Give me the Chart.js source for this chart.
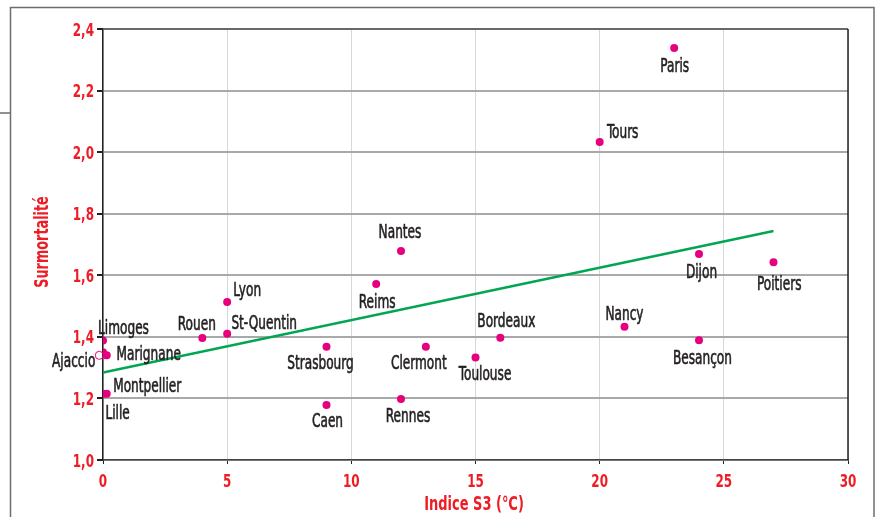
<!DOCTYPE html>
<html>
<head>
<meta charset="utf-8">
<script src="https://cdn.jsdelivr.net/npm/chart.js@4"></script>
<style>
html,body{margin:0;padding:0;background:#fff;}
#wrap{width:876px;height:517px;position:relative;}
</style>
</head>
<body>
<div id="wrap"><canvas id="c" width="876" height="517"></canvas></div>
<script>
// ---- data ----
const cities = ['Paris','Tours','Nantes','Reims','Lyon','St-Quentin','Rouen','Limoges','','Marignane','Lille','Montpellier','Strasbourg','Clermont','Bordeaux','Toulouse','Caen','Rennes','Nancy','Dijon','Poitiers','Besançon'];
const s3Index = [23, 20, 12, 11, 5, 5, 4, 0, 0, 0.15, 0, 0.15, 9, 13, 16, 15, 9, 12, 21, 24, 27, 24];
const surmortalite = [2.338, 2.033, 1.679, 1.572, 1.513, 1.41, 1.396, 1.388, 1.35, 1.34, 1.215, 1.215, 1.368, 1.368, 1.397, 1.333, 1.179, 1.198, 1.433, 1.669, 1.642, 1.389];
const hollowCities = ['Ajaccio'];
const hollowX = [-0.15];
const hollowY = [1.34];
const trendX = [0, 27];
const trendY = [1.284, 1.744];
const xTicks = [0, 5, 10, 15, 20, 25, 30];
const yTicks = [1.0, 1.2, 1.4, 1.6, 1.8, 2.0, 2.2, 2.4];
const xTitle = 'Indice S3 (°C)';
const yTitle = 'Surmortalité';

// ---- styles ----
const RED = '#ee1c25', PINK = '#e6007e', GREEN = '#00a651', TEXT = '#231f20';
const FAM = "'Liberation Sans Narrow','Arial Narrow','DejaVu Sans Condensed',sans-serif";
// label offsets (pixels, text cap-centre relative to point)
const labelOffsets = {
  'Paris':[0.5,17], 'Tours':[23,-11], 'Nantes':[-1,-20], 'Reims':[1,17], 'Lyon':[20,-13],
  'St-Quentin':[37,-12], 'Rouen':[-5.5,-15], 'Limoges':[20.5,-13], 'Marignane':[42,-2],
  'Lille':[14.6,18.5], 'Montpellier':[40.5,-8.5], 'Strasbourg':[-6,15], 'Clermont':[-7,15],
  'Bordeaux':[6,-17.7], 'Toulouse':[9.6,16], 'Caen':[1,15], 'Rennes':[7,16], 'Nancy':[0,-13.7],
  'Dijon':[2.5,17.3], 'Poitiers':[5.7,20.7], 'Besançon':[3.4,16.7], 'Ajaccio':[-25.6,5]
};

const pts = s3Index.map((x,i)=>({x:x,y:surmortalite[i]}));
const hollowPts = hollowX.map((x,i)=>({x:x,y:hollowY[i]}));
const trendPts = trendX.map((x,i)=>({x:x,y:trendY[i]}));

// draw condensed text; (x,y) = anchor at cap-centre
function condText(ctx, txt, x, y, font, size, sx, align, color, stroke){
  ctx.save();
  ctx.translate(x, y + size*0.73/2);
  ctx.scale(sx,1);
  ctx.font = font+' '+size+'px '+FAM;
  ctx.fillStyle = color;
  ctx.textAlign = align;
  ctx.textBaseline = 'alphabetic';
  ctx.fillText(txt,0,0);
  if(stroke){ ctx.strokeStyle = color; ctx.lineWidth = stroke; ctx.lineJoin='round'; ctx.strokeText(txt,0,0); }
  ctx.restore();
}
function drawLabel(ctx, name, px, py){
  const off = labelOffsets[name] || [0,0];
  condText(ctx, name, px+off[0], py+off[1], 'normal', 19, 0.71, 'center', TEXT, 0.6);
}

const decor = {
  id:'decor',
  beforeDraw(chart){
    const ctx = chart.ctx;
    ctx.save();
    ctx.fillStyle='#fff'; ctx.fillRect(0,0,chart.width,chart.height);
    ctx.strokeStyle='#6d6d6d'; ctx.lineWidth=1.5;
    ctx.beginPath();
    ctx.moveTo(10.5,517); ctx.lineTo(10.5,7.5); ctx.lineTo(874,7.5); ctx.lineTo(874,517);
    ctx.moveTo(0,113); ctx.lineTo(10,113);
    ctx.stroke();
    ctx.restore();
  },
  beforeDatasetsDraw(chart){
    const ctx = chart.ctx, a = chart.chartArea;
    ctx.save();
    ctx.strokeStyle='#555'; ctx.lineWidth=1.5;
    ctx.beginPath(); ctx.moveTo(a.left,a.top); ctx.lineTo(a.right,a.top); ctx.stroke();
    ctx.strokeStyle='#222'; ctx.lineWidth=1.5;
    ctx.beginPath(); ctx.moveTo(a.right,a.top); ctx.lineTo(a.right,a.bottom); ctx.stroke();
    ctx.restore();
  },
  afterDatasetsDraw(chart){
    const ctx = chart.ctx;
    const m0 = chart.getDatasetMeta(0);
    m0.data.forEach((el,i)=>{ if(cities[i]) drawLabel(ctx,cities[i],el.x,el.y); });
    const m1 = chart.getDatasetMeta(1);
    m1.data.forEach((el,i)=>{ if(hollowCities[i]) drawLabel(ctx,hollowCities[i],el.x,el.y); });
    // tick labels
    const xs = chart.scales.x, ys = chart.scales.y;
    xTicks.forEach(v=>condText(ctx, String(v), xs.getPixelForValue(v), 480, 'bold', 18, 0.74, 'center', RED));
    yTicks.forEach(v=>condText(ctx, v.toFixed(1).replace('.',','), 94, ys.getPixelForValue(v), 'bold', 18, 0.74, 'right', RED));
    // axis titles
    condText(ctx, xTitle, 474, 503, 'bold', 19, 0.76, 'center', RED);
    ctx.save();
    ctx.translate(41,242); ctx.rotate(-Math.PI/2);
    condText(ctx, yTitle, 0, 0, 'bold', 19, 0.75, 'center', RED);
    ctx.restore();
  }
};

new Chart(document.getElementById('c'), {
  type:'scatter',
  data:{
    datasets:[
      {label:'Villes', data:pts, backgroundColor:PINK, borderColor:PINK, pointRadius:4, pointHoverRadius:4, borderWidth:0},
      {label:'Ajaccio', data:hollowPts, backgroundColor:'rgba(255,255,255,0)', borderColor:PINK, pointRadius:4, borderWidth:1, clip:false},
      {type:'line', label:'Tendance', data:trendPts, borderColor:GREEN, borderWidth:2.5, pointRadius:0, fill:false, tension:0}
    ]
  },
  options:{
    responsive:false, animation:false, events:[],
    layout:{padding:{top:29,right:28,bottom:0,left:0}},
    plugins:{legend:{display:false}, tooltip:{enabled:false}},
    scales:{
      x:{
        type:'linear', min:0, max:30,
        afterBuildTicks(s){ s.ticks = xTicks.map(v=>({value:v})); },
        afterFit(s){ s.height = 57; },
        grid:{color:'#d8d8d8', lineWidth:1, tickLength:4, tickColor:'#222', drawTicks:true},
        border:{display:true, color:'#444', width:1.5},
        ticks:{color:'rgba(0,0,0,0)', font:{family:FAM, size:18}, padding:6, maxRotation:0}
      },
      y:{
        type:'linear', min:1.0, max:2.4,
        afterBuildTicks(s){ s.ticks = yTicks.map(v=>({value:v})); },
        afterFit(s){ s.width = 103; },
        grid:{color:'#a9a9a9', lineWidth:2, tickLength:6, tickColor:'#222', drawTicks:true},
        border:{display:true, color:'#222', width:1.5},
        ticks:{color:'rgba(0,0,0,0)', font:{family:FAM, size:18}, padding:3,
          callback:(v)=>Number(v).toFixed(1).replace('.',',')}
      }
    }
  },
  plugins:[decor]
});
</script>
</body>
</html>
